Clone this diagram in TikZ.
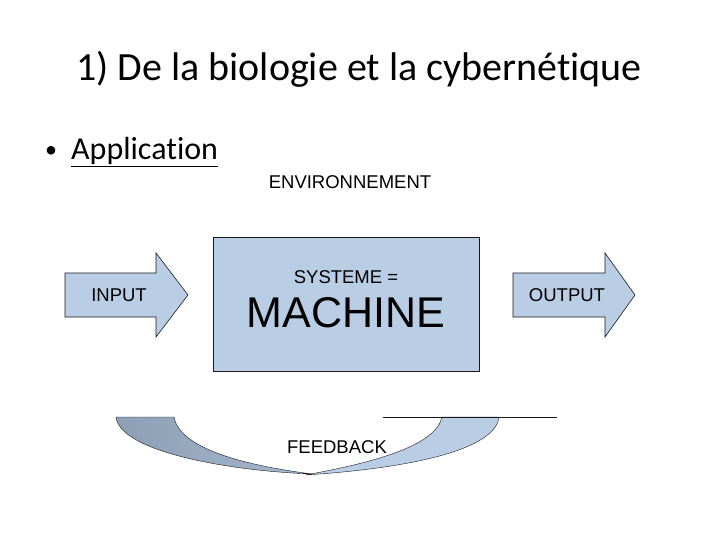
\documentclass[tikz,border=0pt]{standalone}
\usepackage{fontspec}
\setmainfont{Liberation Sans}
\newfontfamily\slidefont[Ligatures=NoCommon]{Carlito}
\usetikzlibrary{positioning}
\definecolor{Sky}{HTML}{B9CDE5}
\definecolor{Slate}{HTML}{8D9FB5}
\definecolor{Ink}{HTML}{1A1A1A}

\begin{document}
\begin{tikzpicture}[x=1pt,y=-1pt,
  lbl/.style={font=\fontsize{18.5}{21}\selectfont,inner sep=0pt,anchor=base},
  heading/.style={font=\slidefont\fontsize{40}{46}\selectfont,inner sep=0pt,anchor=base},
  bullet/.style={font=\slidefont\fontsize{32}{37}\selectfont,inner sep=0pt,anchor=base west},
  flow/.style={draw=Ink,fill=Sky,line join=miter,semithick},
  loopband/.style={draw=Ink,line join=round}]
\useasboundingbox (0,0) rectangle (720,540);
% titles
\node[heading](title) at (359,81){1) De la biologie et la cybernétique};
\node[bullet,font=\slidefont\fontsize{24}{30}\selectfont](dot) at (45,158){•};
\node[bullet](appl) at (71,160){\underline{Application}};
\node[lbl](env) at (350,189){ENVIRONNEMENT};
% system box
\node[flow,minimum width=266pt,minimum height=134pt,inner sep=0pt](system) at (346,304){};
\node[lbl](sys) at (346,283){SYSTEME =};
\node[lbl,font=\fontsize{43}{48}\selectfont](machine) at (346,327){MACHINE};
% input / output arrows
\draw[flow] (65,273) -- (156,273) -- (156,253) -- (188,295) -- (156,337) -- (156,317) -- (65,317) -- cycle;
\node[lbl](input) at (119,301){INPUT};
\draw[flow] (513,273) -- (605,273) -- (605,253) -- (635,295) -- (605,337) -- (605,317) -- (513,317) -- cycle;
\node[lbl](output) at (567,301){OUTPUT};
% feedback loop
\draw[loopband,left color=Slate,right color=Slate!45!Sky]
  (116,417) -- (174,417) .. controls (180,450) and (250,466) .. (312,474)
  .. controls (230,471) and (120,452) .. cycle;
\draw[loopband,fill=Sky]
  (442,417) -- (499,417) .. controls (495,452) and (400,469) .. (305,475)
  .. controls (372,463) and (436,446) .. cycle;
\coordinate (rule a) at (383,417);
\coordinate (rule b) at (557,417);
\draw[Ink] (rule a) -- (rule b);
\node[lbl](feedback) at (337,453){FEEDBACK};
\end{tikzpicture}
\end{document}
